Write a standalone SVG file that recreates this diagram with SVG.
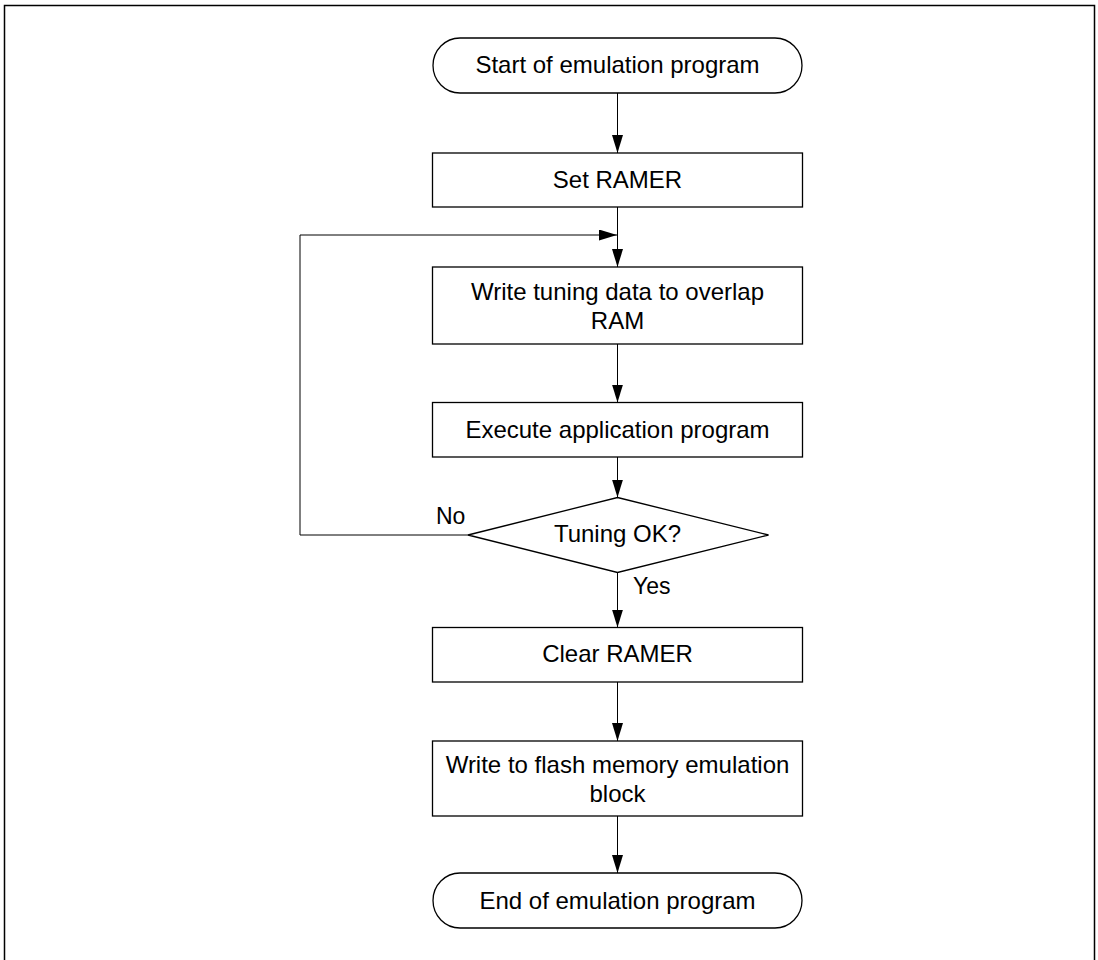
<svg xmlns="http://www.w3.org/2000/svg" width="1098" height="960" viewBox="0 0 1098 960">
<style>
.shape{fill:#fff;stroke:#000;stroke-width:1.3}
.conn{fill:none;stroke:#000;stroke-width:1}
text{font-family:"Liberation Sans",Arial,sans-serif;font-size:24px;fill:#000}
.c{text-anchor:middle}
.lbl{font-size:23px}
</style>
<defs>
<marker id="ah" markerUnits="userSpaceOnUse" markerWidth="18" markerHeight="12" refX="18" refY="5.5" orient="auto">
<path d="M0,0 L18,5.5 L0,11 Z" fill="#000"/>
</marker>
</defs>
<rect x="4.5" y="5.5" width="1090" height="1000" fill="none" stroke="#000" stroke-width="1.5"/>
<g id="connectors">
<path class="conn" d="M617.5,93 V153" marker-end="url(#ah)"/>
<path class="conn" d="M617.5,207 V267" marker-end="url(#ah)"/>
<path class="conn" d="M468,535 H300 V235 H617" marker-end="url(#ah)"/>
<path class="conn" d="M617.5,344 V402.5" marker-end="url(#ah)"/>
<path class="conn" d="M617.5,457 V497.5" marker-end="url(#ah)"/>
<path class="conn" d="M617.5,572.5 V627.5" marker-end="url(#ah)"/>
<path class="conn" d="M617.5,682 V741" marker-end="url(#ah)"/>
<path class="conn" d="M617.5,816 V873" marker-end="url(#ah)"/>
</g>
<g id="start">
<rect class="shape" x="433" y="38" width="369" height="55" rx="27" ry="27.5"/>
<text class="c" x="617.5" y="73">Start of emulation program</text>
</g>
<g id="set-ramer">
<rect class="shape" x="432.5" y="153" width="370" height="54"/>
<text class="c" x="617.5" y="188">Set RAMER</text>
</g>
<g id="write-tuning">
<rect class="shape" x="432.5" y="267" width="370" height="77"/>
<text class="c" x="617.5" y="300">Write tuning data to overlap</text>
<text class="c" x="617.5" y="329">RAM</text>
</g>
<g id="execute">
<rect class="shape" x="432.5" y="402.5" width="370" height="54.5"/>
<text class="c" x="617.5" y="437.5">Execute application program</text>
</g>
<g id="tuning-ok">
<polygon class="shape" points="617.5,497.5 768.5,535 617.5,572.5 468,535"/>
<text class="c" x="617.5" y="542">Tuning OK?</text>
<text class="lbl" x="436" y="524">No</text>
<text class="lbl" x="633" y="594">Yes</text>
</g>
<g id="clear-ramer">
<rect class="shape" x="432.5" y="627.5" width="370" height="54.5"/>
<text class="c" x="617.5" y="662">Clear RAMER</text>
</g>
<g id="write-flash">
<rect class="shape" x="432.5" y="741" width="370" height="75"/>
<text class="c" x="617.5" y="773">Write to flash memory emulation</text>
<text class="c" x="617.5" y="801.5">block</text>
</g>
<g id="end">
<rect class="shape" x="433" y="873" width="369" height="55" rx="27" ry="27.5"/>
<text class="c" x="617.5" y="909">End of emulation program</text>
</g>
</svg>
